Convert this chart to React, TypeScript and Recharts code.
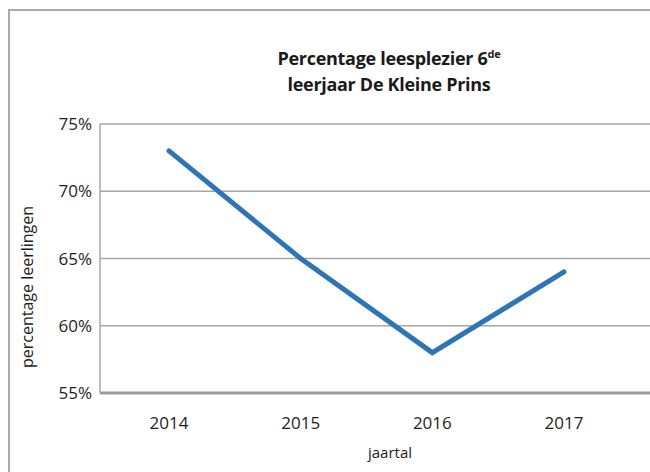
import React from "react"
import { LineChart, Line, XAxis, YAxis, CartesianGrid, Label } from "recharts"

const years = ["2014", "2015", "2016", "2017"]
const leesplezier = [0.73, 0.65, 0.58, 0.64]
const yTicks = [0.55, 0.6, 0.65, 0.7, 0.75]

const data = years.map((jaar, i) => ({ jaar, waarde: leesplezier[i] }))

const FONT = "'Open Sans', sans-serif"

const YLabel = (props: any) => {
  return (
    <text
      x={0}
      y={0}
      transform="translate(33, 287) rotate(-90)"
      textAnchor="middle"
      fontSize={16}
      fill="#1e1e1e"
      fontFamily={FONT}
    >
      percentage leerlingen
    </text>
  )
}

const XLabel = (props: any) => {
  return (
    <text x={390} y={458} textAnchor="middle" fontSize={15} fill="#1e1e1e" fontFamily={FONT}>
      jaartal
    </text>
  )
}

export default function App() {
  return (
    <div
      style={{
        position: "fixed",
        left: 0,
        top: 0,
        width: 650,
        height: 472,
        overflow: "hidden",
        background: "#fff",
        fontFamily: FONT,
      }}
    >
      <div
        style={{
          position: "absolute",
          left: 8,
          top: 9,
          width: 700,
          height: 500,
          border: "2px solid #ababab",
          boxSizing: "border-box",
        }}
      />
      <div
        style={{
          position: "absolute",
          left: 0,
          top: 45,
          width: 778,
          textAlign: "center",
          fontWeight: 700,
          fontSize: 18,
          lineHeight: "26px",
          letterSpacing: "-0.3px",
          color: "#1a1a1a",
        }}
      >
        Percentage leesplezier 6<sup style={{ fontSize: 11, verticalAlign: "7px", lineHeight: 0 }}>de</sup>
        <br />
        leerjaar De Kleine Prins
      </div>
      <div style={{ position: "absolute", left: 0, top: 0 }}>
        <LineChart
          width={650}
          height={472}
          data={data}
          margin={{ top: 124, right: 0, bottom: 0, left: 0 }}
        >
          <CartesianGrid vertical={false} stroke="#a6a6a6" strokeWidth={1.5} />
          <XAxis
            dataKey="jaar"
            height={79}
            padding={{ left: 69, right: 86 }}
            axisLine={{ stroke: "#9a9a9a", strokeWidth: 3 }}
            tickLine={false}
            tickSize={0}
            tickMargin={24}
            tick={{ fontSize: 17, fill: "#1e1e1e", fontFamily: FONT }}
          >
            <Label content={<XLabel />} />
          </XAxis>
          <YAxis
            width={100}
            domain={[0.55, 0.75]}
            ticks={yTicks}
            tickFormatter={(v: number) => `${Math.round(v * 100)}%`}
            axisLine={{ stroke: "#a6a6a6", strokeWidth: 1.5 }}
            tickLine={false}
            tickSize={0}
            tickMargin={8}
            tick={{ fontSize: 17, fill: "#1e1e1e", fontFamily: FONT }}
          >
            <Label content={<YLabel />} />
          </YAxis>
          <Line
            type="linear"
            dataKey="waarde"
            stroke="#2e75b6"
            strokeWidth={5}
            strokeLinecap="round"
            dot={false}
            activeDot={false}
            isAnimationActive={false}
          />
        </LineChart>
      </div>
    </div>
  )
}
